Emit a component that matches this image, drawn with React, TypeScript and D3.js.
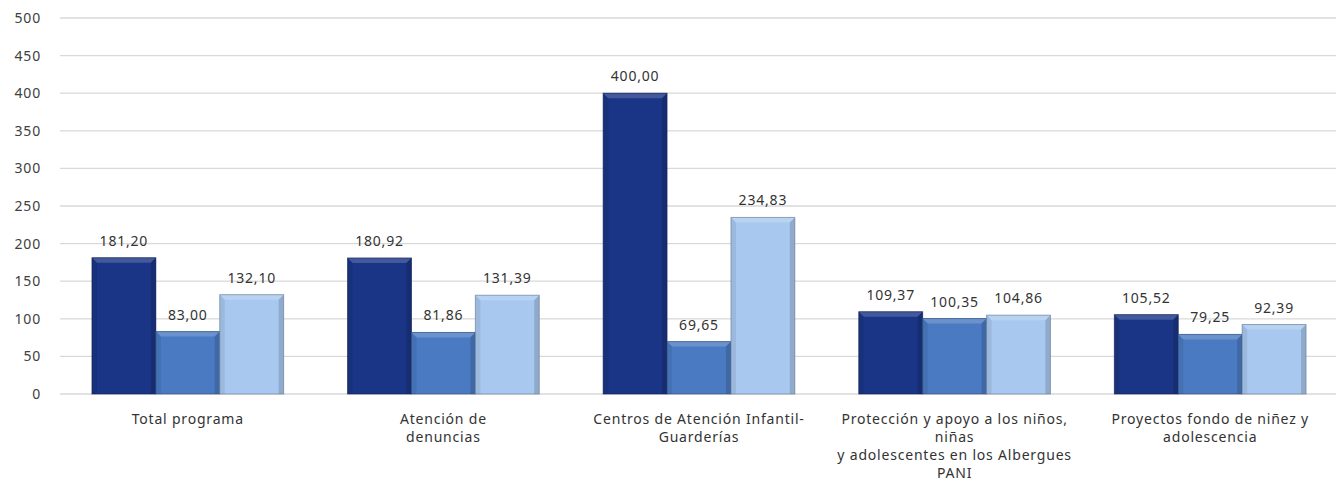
import { useEffect } from 'react';
import { scaleLinear, scaleBand, interpolateRgb } from 'd3';

const CATEGORIES = [
  ['Total programa'],
  ['Atención de', 'denuncias'],
  ['Centros de Atención Infantil-', 'Guarderías'],
  ['Protección y apoyo a los niños,', 'niñas', 'y adolescentes en los Albergues', 'PANI'],
  ['Proyectos fondo de niñez y', 'adolescencia'],
];
const SERIES_A = [181.2, 180.92, 400.0, 109.37, 105.52];
const SERIES_B = [83.0, 81.86, 69.65, 100.35, 79.25];
const SERIES_C = [132.1, 131.39, 234.83, 104.86, 92.39];
const Y_TICKS = [0, 50, 100, 150, 200, 250, 300, 350, 400, 450, 500];
const COLORS = ['#1a3586', '#4a7ac2', '#a8c8ef'];

const W = 1341;
const H = 496;
const M = { top: 18, right: 3, bottom: 102, left: 60 };
const IW = W - M.left - M.right;
const IH = H - M.top - M.bottom;
const FONT = '"Noto Sans", "Open Sans", sans-serif';
const FS = 14;
const LS = 0.8;

const fmt = (v: number) => v.toFixed(2).replace('.', ',');

export default function App() {
  useEffect(() => {
    document.body.style.margin = '0';
  }, []);

  const y = scaleLinear().domain([0, 500]).range([IH, 0]);
  const x0 = scaleBand<number>().domain(CATEGORIES.map((_, i) => i)).range([0, IW]).paddingInner(0.25).paddingOuter(0.125);
  const x1 = scaleBand<number>().domain([0, 1, 2]).range([0, x0.bandwidth()]);
  const series = [SERIES_A, SERIES_B, SERIES_C];
  const b = 5;

  return (
    <svg width={W} height={H} style={{ display: 'block', background: '#fff' }}>
      <g transform={`translate(${M.left},${M.top})`}>
        {Y_TICKS.map((t) => (
          <g key={t}>
            <line x1={0} x2={IW - 2} y1={y(t)} y2={y(t)} stroke="#d9d9d9" strokeWidth={1.3} />
            <text x={-19} y={y(t)} dy="0.35em" textAnchor="end" fontSize={FS} letterSpacing={LS} fontFamily={FONT} fill="#404040">
              {t}
            </text>
          </g>
        ))}
        {CATEGORIES.map((cat, ci) => (
          <g key={ci} transform={`translate(${x0(ci)},0)`}>
            {series.map((s, si) => {
              const v = s[ci];
              const bx = x1(si)!;
              const bw = x1.bandwidth();
              const by = y(v);
              const bh = IH - by;
              const base = COLORS[si];
              const light = interpolateRgb(base, '#ffffff')(0.18);
              const dark = interpolateRgb(base, '#000000')(0.25);
              const edge = interpolateRgb(base, '#000000')(0.4);
              return (
                <g key={si}>
                  <rect x={bx} y={by} width={bw} height={bh} fill={base} />
                  <polygon
                    points={`${bx},${by} ${bx + bw},${by} ${bx + bw - b},${by + b} ${bx + b},${by + b}`}
                    fill={light}
                  />
                  <polygon
                    points={`${bx + bw},${by} ${bx + bw},${by + bh} ${bx + bw - b},${by + bh} ${bx + bw - b},${by + b}`}
                    fill={dark}
                    opacity={0.6}
                  />
                  <polygon
                    points={`${bx},${by} ${bx + b},${by + b} ${bx + b},${by + bh} ${bx},${by + bh}`}
                    fill={dark}
                    opacity={0.3}
                  />
                  <rect x={bx} y={by} width={bw} height={bh} fill="none" stroke={edge} strokeOpacity={0.6} strokeWidth={1} />
                  <text
                    x={bx + bw / 2}
                    y={by - 12}
                    textAnchor="middle"
                    fontSize={FS}
                    letterSpacing={LS}
                    fontFamily={FONT}
                    fill="#333"
                  >
                    {fmt(v)}
                  </text>
                </g>
              );
            })}
            {cat.map((line, li) => (
              <text
                key={li}
                x={x0.bandwidth() / 2}
                y={IH + 30 + li * 18}
                textAnchor="middle"
                fontSize={FS}
                letterSpacing={LS}
                fontFamily={FONT}
                fill="#333"
              >
                {line}
              </text>
            ))}
          </g>
        ))}
      </g>
    </svg>
  );
}
